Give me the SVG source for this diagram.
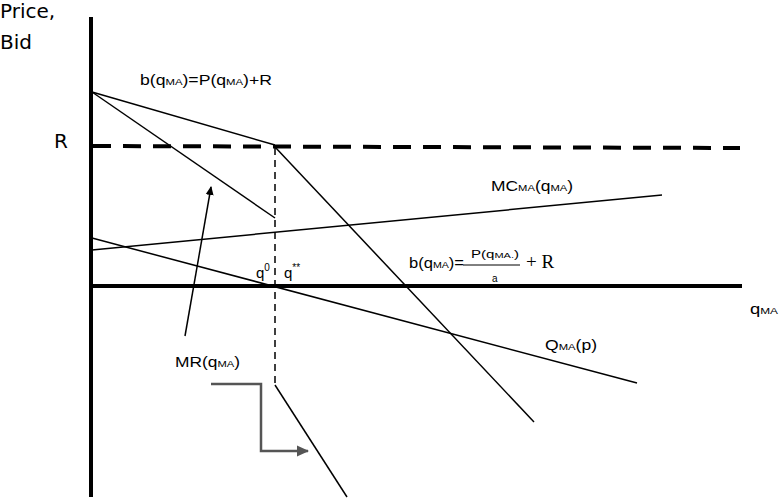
<svg xmlns="http://www.w3.org/2000/svg" width="781" height="500" viewBox="0 0 781 500">
<defs>
<style>
.t{font-family:"Liberation Sans",Arial,sans-serif;fill:#000}
.big{font-family:"DejaVu Sans","Liberation Sans",sans-serif;font-size:20px;fill:#000}
.sm{font-size:14px}
.sb{font-size:9px}
.ln{stroke:#000;stroke-width:1.5;fill:none}
</style>
<marker id="ah" markerWidth="10" markerHeight="10" refX="8" refY="5" orient="auto" markerUnits="userSpaceOnUse">
<path d="M0,1 L9,5 L0,9 Z" fill="#000"/>
</marker>
<marker id="ahg" markerWidth="14" markerHeight="14" refX="11" refY="7" orient="auto" markerUnits="userSpaceOnUse">
<path d="M0,1.5 L12,7 L0,12.5 Z" fill="#555"/>
</marker>
</defs>
<rect width="781" height="500" fill="#fff"/>
<g id="axes">
<line x1="91" y1="17" x2="91" y2="497" stroke="#000" stroke-width="4"/>
<line x1="91" y1="286" x2="742" y2="286" stroke="#000" stroke-width="4"/>
<line id="r-line" x1="93" y1="146" x2="740" y2="148" stroke="#000" stroke-width="4" stroke-dasharray="18,12"/>
</g>
<g id="connectors">
<line class="ln" x1="92" y1="92" x2="275" y2="145"/>
<line class="ln" x1="92" y1="92" x2="275" y2="218"/>
<line class="ln" x1="275" y1="147" x2="534" y2="422"/>
<line class="ln" x1="275" y1="385" x2="347" y2="497"/>
<line class="ln" x1="92" y1="250" x2="662" y2="195"/>
<line class="ln" x1="92" y1="238" x2="637" y2="383"/>
<line x1="275" y1="148" x2="275" y2="385" stroke="#000" stroke-width="1.5" stroke-dasharray="7,5"/>
<line class="ln" x1="185" y1="336" x2="211" y2="187" marker-end="url(#ah)"/>
<polyline points="211,384 261,384 261,451 308,451" fill="none" stroke="#555" stroke-width="2.5" marker-end="url(#ahg)"/>
</g>
<g id="labels">
<text class="big" x="0" y="18">Price,</text>
<text class="big" x="0" y="49">Bid</text>
<text class="big" x="54" y="148">R</text>
<text class="t sm" x="140" y="85" textLength="132" lengthAdjust="spacingAndGlyphs">b(q<tspan class="sb">MA</tspan>)=P(q<tspan class="sb">MA</tspan>)+R</text>
<text class="t sm" x="491" y="191" textLength="82" lengthAdjust="spacingAndGlyphs">MC<tspan class="sb">MA</tspan>(q<tspan class="sb">MA</tspan>)</text>
<text class="t sm" x="409" y="268" textLength="55" lengthAdjust="spacingAndGlyphs">b(q<tspan class="sb">MA</tspan>)=</text>
<text class="t" font-size="11" x="471" y="258" textLength="48" lengthAdjust="spacingAndGlyphs">P(q<tspan font-size="8">MA.</tspan>)</text>
<line x1="463" y1="265" x2="520" y2="265" stroke="#000" stroke-width="1"/>
<text class="t" font-size="10" x="492" y="282">a</text>
<text x="526" y="268" font-family="'Liberation Serif','Times New Roman',serif" font-size="19">+ R</text>
<text class="t" font-size="15" x="256" y="278">q<tspan font-size="10" dy="-7">0</tspan></text>
<text class="t" font-size="15" x="284" y="278">q<tspan font-size="10" dy="-7">**</tspan></text>
<text class="t sm" x="750" y="314" textLength="28" lengthAdjust="spacingAndGlyphs">q<tspan class="sb">MA</tspan></text>
<text class="t sm" x="545" y="350" textLength="52" lengthAdjust="spacingAndGlyphs">Q<tspan class="sb">MA</tspan>(p)</text>
<text class="t sm" x="175" y="367" textLength="65" lengthAdjust="spacingAndGlyphs">MR(q<tspan class="sb">MA</tspan>)</text>
</g>
</svg>
